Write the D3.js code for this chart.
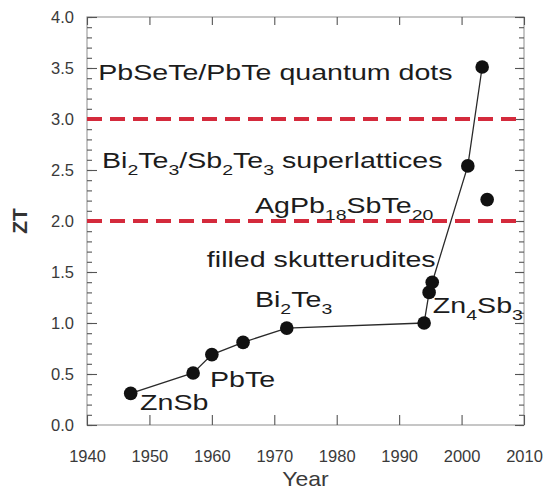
<!DOCTYPE html>
<html>
<head>
<meta charset="utf-8">
<script src="https://cdn.jsdelivr.net/npm/d3@7"></script>
<style>
  body { margin: 0; background: #fff; }
  text { font-family: "Liberation Sans", Arial, sans-serif; }
</style>
</head>
<body>
<div id="chart"></div>
<script>
// record ZT values by year (connected series)
const years = [1947, 1957, 1960, 1965, 1972, 1994, 1994.8, 1995.3, 2001, 2003.3];
const ztValues = [0.31, 0.51, 0.69, 0.81, 0.95, 1.0, 1.3, 1.4, 2.54, 3.51];

// separate point, not on the line (AgPb18SbTe20)
const extraYears = [2004.1];
const extraZT = [2.21];

// dashed reference levels
const levels = [2.0, 3.0];

// tick labels
const xTicks = [1940, 1950, 1960, 1970, 1980, 1990, 2000, 2010];
const yTicks = [0, 0.5, 1.0, 1.5, 2.0, 2.5, 3.0, 3.5, 4.0];

// annotation texts ("_n" marks a subscript) and their anchors in data units
const labelTexts = ["PbSeTe/PbTe quantum dots", "Bi_2Te_3/Sb_2Te_3 superlattices", "AgPb_18SbTe_20",
  "filled skutterudites", "Bi_2Te_3", "Zn_4Sb_3", "PbTe", "ZnSb"];
const labelYears = [1941.8, 1942.4, 1966.9, 1959.2, 1966.9, 1995.4, 1959.7, 1948.5];
const labelZT = [3.38, 2.52, 2.08, 1.55, 1.16, 1.10, 0.37, 0.15];

const W = 550, H = 491;
const margin = {top: 17, right: 26, bottom: 66, left: 87},
    width = W - margin.left - margin.right,
    height = H - margin.top - margin.bottom;

const svg = d3.select("#chart")
  .append("svg")
    .attr("width", W)
    .attr("height", H)
  .append("g")
    .attr("transform", `translate(${margin.left}, ${margin.top})`);

const x = d3.scaleLinear().domain([1940, 2010]).range([0, width]);
const y = d3.scaleLinear().domain([0, 4]).range([height, 0]);

// frame
svg.append("rect")
  .attr("width", width)
  .attr("height", height)
  .attr("fill", "none")
  .attr("stroke", "#a8a8a8")
  .attr("stroke-width", 1.3);

const minorY = d3.range(0, 4.001, 0.1);

function styleAxis(g) {
  g.select(".domain").remove();
  g.selectAll(".tick line").attr("stroke", "#555").attr("stroke-width", 1.1);
  g.selectAll(".tick text")
    .attr("fill", "#3a3a3a")
    .style("font-size", "16.5px");
}

// left: minor then major (inward ticks)
svg.append("g")
  .call(d3.axisLeft(y).tickValues(minorY).tickSize(-5).tickFormat(""))
  .call(styleAxis);
svg.append("g")
  .call(d3.axisLeft(y).tickValues(yTicks).tickSize(-10).tickPadding(13).tickFormat(d3.format(".1f")))
  .call(styleAxis);

// right
svg.append("g")
  .attr("transform", `translate(${width},0)`)
  .call(d3.axisRight(y).tickValues(minorY).tickSize(-5).tickFormat(""))
  .call(styleAxis);
svg.append("g")
  .attr("transform", `translate(${width},0)`)
  .call(d3.axisRight(y).tickValues(yTicks).tickSize(-9).tickFormat(""))
  .call(styleAxis);

// bottom
svg.append("g")
  .attr("transform", `translate(0,${height})`)
  .call(d3.axisBottom(x).tickValues(xTicks).tickSize(-10).tickPadding(25).tickFormat(d3.format("d")))
  .call(styleAxis);

// top
svg.append("g")
  .call(d3.axisTop(x).tickValues(xTicks).tickSize(-8).tickFormat(""))
  .call(styleAxis);

// dashed levels
svg.selectAll(".level")
  .data(levels)
  .enter()
  .append("line")
    .attr("x1", 0)
    .attr("x2", width)
    .attr("y1", d => y(d))
    .attr("y2", d => y(d))
    .attr("stroke", "#d42a3c")
    .attr("stroke-width", 4)
    .attr("stroke-dasharray", "15,8");

// the line
const series = years.map((yr, i) => ({year: yr, zt: ztValues[i]}));
svg.append("path")
  .datum(series)
  .attr("fill", "none")
  .attr("stroke", "#2a2a2a")
  .attr("stroke-width", 1.3)
  .attr("d", d3.line().x(d => x(d.year)).y(d => y(d.zt)));

// dots
const allPoints = series.concat(extraYears.map((yr, i) => ({year: yr, zt: extraZT[i]})));
svg.selectAll(".dot")
  .data(allPoints)
  .enter()
  .append("circle")
    .attr("cx", d => x(d.year))
    .attr("cy", d => y(d.zt))
    .attr("r", 6.8)
    .attr("fill", "#111");

// annotations, with subscripts
labelTexts.forEach(function(str, i) {
  const t = svg.append("text")
    .attr("transform", `translate(${x(labelYears[i])},${y(labelZT[i])}) scale(1.3,1)`)
    .attr("fill", "#1c1c1c")
    .style("font-size", "22px");
  let lowered = false;
  str.split(/(_\d+)/).filter(s => s.length).forEach(function(part) {
    if (part[0] == "_") {
      t.append("tspan").attr("dy", 7).style("font-size", "15px").text(part.slice(1));
      lowered = true;
    } else {
      t.append("tspan").attr("dy", lowered ? -7 : 0).text(part);
      lowered = false;
    }
  });
});

// axis titles
svg.append("text")
  .attr("transform", `translate(${-60},${y(2)}) rotate(-90)`)
  .attr("text-anchor", "middle")
  .attr("fill", "#333")
  .style("font-size", "21px")
  .style("font-weight", "bold")
  .text("ZT");

svg.append("text")
  .attr("transform", `translate(${x(1975)},${height + 61}) scale(1.15,1)`)
  .attr("text-anchor", "middle")
  .attr("fill", "#3a3a3a")
  .style("font-size", "20px")
  .text("Year");
</script>
</body>
</html>
